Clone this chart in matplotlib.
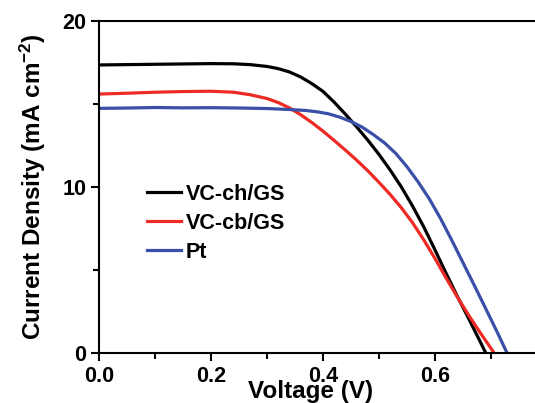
import matplotlib
matplotlib.use("Agg")
import matplotlib.pyplot as plt
from matplotlib.ticker import FixedLocator, FormatStrFormatter

plt.rcParams['font.family'] = ['Liberation Sans', 'DejaVu Sans']
plt.rcParams['font.weight'] = 'bold'
plt.rcParams['mathtext.fontset'] = 'custom'
plt.rcParams['mathtext.rm'] = 'Liberation Sans:bold'
plt.rcParams['mathtext.default'] = 'rm'

# J-V curves
v_ch = [0, 0.05, 0.1, 0.15, 0.2, 0.24, 0.27, 0.30, 0.32, 0.34, 0.36, 0.38, 0.40,
        0.42, 0.44, 0.46, 0.48, 0.50, 0.52, 0.54, 0.56, 0.58, 0.60, 0.62, 0.64,
        0.66, 0.68, 0.691]
j_ch = [17.34, 17.36, 17.38, 17.40, 17.42, 17.41, 17.36, 17.25, 17.12, 16.92, 16.62,
        16.22, 15.75, 15.10, 14.38, 13.62, 12.82, 11.96, 11.02, 10.00, 8.85, 7.60,
        6.22, 4.80, 3.42, 2.10, 0.75, 0.0]

v_cb = [0, 0.05, 0.1, 0.15, 0.2, 0.24, 0.27, 0.30, 0.32, 0.34, 0.36, 0.38, 0.40,
        0.42, 0.44, 0.46, 0.48, 0.50, 0.52, 0.54, 0.56, 0.58, 0.60, 0.62, 0.64,
        0.66, 0.68, 0.706]
j_cb = [15.59, 15.64, 15.70, 15.74, 15.76, 15.70, 15.55, 15.32, 15.08, 14.76, 14.35,
        13.88, 13.36, 12.80, 12.22, 11.62, 10.98, 10.28, 9.55, 8.75, 7.85, 6.82,
        5.70, 4.52, 3.38, 2.30, 1.28, 0.0]

v_pt = [0, 0.05, 0.1, 0.15, 0.2, 0.25, 0.30, 0.34, 0.37, 0.39, 0.41, 0.43, 0.45,
        0.47, 0.49, 0.51, 0.53, 0.55, 0.57, 0.59, 0.61, 0.63, 0.65, 0.67, 0.69,
        0.71, 0.729]
j_pt = [14.73, 14.75, 14.78, 14.76, 14.77, 14.75, 14.72, 14.66, 14.60, 14.52, 14.40,
        14.20, 13.94, 13.60, 13.15, 12.65, 12.02, 11.22, 10.30, 9.28, 8.10, 6.80,
        5.45, 4.10, 2.73, 1.35, 0.0]

labels = ["VC-ch/GS", "VC-cb/GS", "Pt"]
colors = ["#000000", "#ee2a24", "#3a4fa8"]

fig = plt.figure(figsize=(5.35, 4.03), dpi=100)
ax = fig.add_axes([0.185, 0.1233, 0.8374, 0.8253])

ax.plot(v_ch, j_ch, color=colors[0], lw=2.3, label=labels[0])
ax.plot(v_cb, j_cb, color=colors[1], lw=2.3, label=labels[1])
ax.plot(v_pt, j_pt, color=colors[2], lw=2.3, label=labels[2])

ax.set_xlim(0, 0.8)
ax.set_ylim(0, 20)
ax.xaxis.set_major_locator(FixedLocator([0.0, 0.2, 0.4, 0.6]))
ax.xaxis.set_minor_locator(FixedLocator([0.1, 0.3, 0.5, 0.7]))
ax.yaxis.set_major_locator(FixedLocator([0, 10, 20]))
ax.yaxis.set_minor_locator(FixedLocator([5, 15]))
ax.xaxis.set_major_formatter(FormatStrFormatter('%.1f'))

for s in ax.spines.values():
    s.set_linewidth(1.5)
ax.tick_params(which='major', direction='out', length=6, width=1.5,
               labelsize=15.5, pad=3)
ax.tick_params(which='minor', direction='out', length=4, width=1.5)

ax.set_xlabel("Voltage (V)", fontsize=17.5, fontweight='bold')
ax.xaxis.set_label_coords(0.472, -0.08, transform=ax.transAxes)
ax.xaxis.label.set_va('top')
ax.set_ylabel(r"Current Density (mA cm$^{-2}$)", fontsize=17.5, fontweight='bold',
              labelpad=10.5)

ax.legend(loc='upper left', bbox_to_anchor=(0.107, 0.51), frameon=False,
          fontsize=15.5, handlelength=1.6, handletextpad=0.2, labelspacing=0.37,
          borderaxespad=0, borderpad=0)

fig.savefig("out.png", dpi=100)
